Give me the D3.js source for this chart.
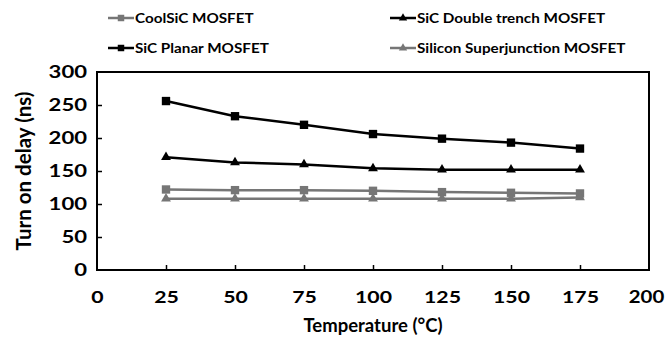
<!DOCTYPE html>
<html>
<head>
<meta charset="utf-8">
<script src="https://cdn.jsdelivr.net/npm/d3@7"></script>
<style>
  body { margin: 0; background: #fff; }
  svg text { font-family: Lato, "Open Sans", sans-serif; font-weight: bold; fill: #000; }
</style>
</head>
<body>
<svg id="chart"></svg>
<script>
const temperatures = [25, 50, 75, 100, 125, 150, 175];
const coolSiC = [122, 121, 121, 120, 118, 117, 116];
const sicDoubleTrench = [171, 163, 160, 154, 152, 152, 152];
const sicPlanar = [256, 233, 220, 206, 199, 193, 184];
const siliconSJ = [108, 108, 108, 108, 108, 108, 110];
const xTicks = [0, 25, 50, 75, 100, 125, 150, 175, 200];
const yTicks = [0, 50, 100, 150, 200, 250, 300];

const series = [
  { name: 'CoolSiC MOSFET', values: coolSiC, color: '#767676', shape: 'square' },
  { name: 'SiC Double trench MOSFET', values: sicDoubleTrench, color: '#000000', shape: 'triangle' },
  { name: 'SiC Planar MOSFET', values: sicPlanar, color: '#000000', shape: 'square' },
  { name: 'Silicon Superjunction MOSFET', values: siliconSJ, color: '#767676', shape: 'triangle' },
];

const width = 665, height = 339;
const margin = { top: 72, right: 16, bottom: 69, left: 97 };
const innerW = width - margin.left - margin.right;
const innerH = height - margin.top - margin.bottom;

const svg = d3.select('#chart').attr('width', width).attr('height', height);
const chart = svg.append('g').attr('transform', `translate(${margin.left}, ${margin.top})`);

const x = d3.scaleLinear().domain([0, 200]).range([0, innerW]);
const y = d3.scaleLinear().domain([0, 300]).range([innerH, 0]);

// the picture's text is a bit wide, so stretch horizontally
function stretch(sel, sx, dx = 0) {
  sel.each(function () {
    const t = d3.select(this);
    const x0 = +(t.attr('x') || 0) + dx;
    t.attr('x', x0 / sx).attr('transform', `scale(${sx},1)`);
  });
}

chart.append('rect')
  .attr('width', innerW).attr('height', innerH)
  .attr('fill', 'none').attr('stroke', '#000').attr('stroke-width', 2);

const xAxis = chart.append('g')
  .attr('transform', `translate(0, ${innerH})`)
  .call(d3.axisBottom(x).tickValues(xTicks).tickSizeInner(-5).tickSizeOuter(0).tickPadding(21));
const yAxis = chart.append('g')
  .call(d3.axisLeft(y).tickValues(yTicks).tickSizeInner(-5).tickSizeOuter(0).tickPadding(10));

[xAxis, yAxis].forEach(g => {
  g.select('.domain').remove();
  g.selectAll('.tick line').attr('stroke', '#000').attr('stroke-width', 1.5);
  g.selectAll('.tick text')
    .attr('font-size', '17px')
    .attr('font-family', 'Lato, sans-serif')
    .attr('font-weight', 'bold')
    .attr('fill', '#000');
});
stretch(yAxis.selectAll('.tick text'), 1.3);
stretch(xAxis.selectAll('.tick').filter(d => d !== 200).select('text'), 1.25);
stretch(xAxis.selectAll('.tick').filter(d => d === 200).select('text'), 1.2, -3);
xAxis.selectAll('.tick').filter(d => d === 0 || d === 200).select('line').remove();
yAxis.selectAll('.tick').filter(d => d === 0 || d === 300).select('line').remove();

const line = d3.line()
  .x((d, i) => x(temperatures[i]))
  .y(d => y(d));

const symSquare = d3.symbol().type(d3.symbolSquare).size(70);
const symTriangle = d3.symbol().type(d3.symbolTriangle).size(42);

series.forEach(s => {
  chart.append('path')
    .datum(s.values)
    .attr('d', line)
    .attr('fill', 'none')
    .attr('stroke', s.color)
    .attr('stroke-width', 2.5);

  chart.selectAll(null)
    .data(s.values)
    .enter().append('path')
    .attr('transform', (d, i) => `translate(${x(temperatures[i])}, ${y(d)})`)
    .attr('d', s.shape === 'square' ? symSquare : symTriangle)
    .attr('fill', s.color);
});

// axis titles
svg.append('text')
  .attr('x', margin.left + innerW / 2)
  .attr('y', 332)
  .attr('text-anchor', 'middle')
  .attr('font-size', '18.5px')
  .text('Temperature (°C)');

svg.append('text')
  .attr('transform', `translate(31, ${margin.top + innerH / 2}) rotate(-90)`)
  .attr('text-anchor', 'middle')
  .attr('font-size', '20.5px')
  .text('Turn on delay (ns)');

// legend
const legendPos = [[108, 18], [390, 18], [108, 48], [390, 48]];
series.forEach((s, i) => {
  const [lx, ly] = legendPos[i];
  const g = svg.append('g').attr('transform', `translate(${lx}, ${ly})`);
  g.append('line')
    .attr('x1', 0).attr('x2', 26).attr('y1', 0).attr('y2', 0)
    .attr('stroke', s.color).attr('stroke-width', 2.5);
  g.append('path')
    .attr('transform', 'translate(13, 0)')
    .attr('d', s.shape === 'square'
      ? d3.symbol().type(d3.symbolSquare).size(42)()
      : d3.symbol().type(d3.symbolTriangle).size(30)())
    .attr('fill', s.color);
  const t = g.append('text')
    .attr('x', 27).attr('y', 5)
    .attr('font-size', '14px')
    .text(s.name);
  stretch(t, 1.09);
});
</script>
</body>
</html>
